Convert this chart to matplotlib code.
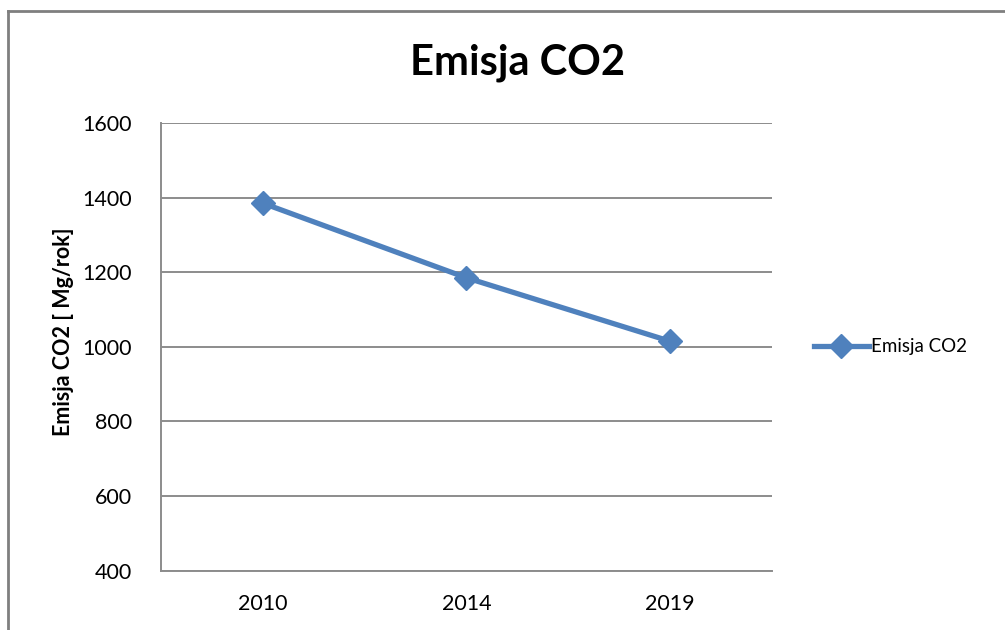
import matplotlib
matplotlib.use("Agg")
import matplotlib.pyplot as plt
from matplotlib.lines import Line2D

plt.rcParams['font.family'] = ['Lato', 'DejaVu Sans']

# Data
years = ['2010', '2014', '2019']
emisja = [1385, 1185, 1015]
y_ticks = [400, 600, 800, 1000, 1200, 1400, 1600]

blue = '#4F81BD'
grid_grey = '#8C8C8C'

fig = plt.figure(figsize=(10.05, 6.30), dpi=100)
ax = fig.add_axes([0.160, 0.094, 0.608, 0.711])

x = range(len(years))
ax.plot(x, emisja, color=blue, linewidth=3.8, marker='D', markersize=12,
        markerfacecolor=blue, markeredgecolor=blue, label='Emisja CO2',
        zorder=3)

ax.set_xlim(-0.5, len(years) - 0.5)
ax.set_ylim(400, 1600)
ax.set_xticks(list(x))
ax.set_xticklabels(years)
ax.set_yticks(y_ticks)
ax.tick_params(axis='both', length=0, labelsize=15.5)
ax.tick_params(axis='y', pad=21)
ax.tick_params(axis='x', pad=17)

ax.grid(axis='y', color=grid_grey, linewidth=1.4)
ax.set_axisbelow(True)
for side in ['top', 'right']:
    ax.spines[side].set_visible(False)
for side in ['left', 'bottom']:
    ax.spines[side].set_color(grid_grey)
    ax.spines[side].set_linewidth(1.4)

ax.set_ylabel('Emisja CO2 [ Mg/rok]', fontsize=15.5, fontweight='bold')
ax.yaxis.set_label_coords(-0.142, 0.533)
fig.text(0.515, 0.901, 'Emisja CO2', fontsize=30, fontweight='bold',
         ha='center', va='center')

ax.legend(loc='center left', bbox_to_anchor=(1.057, 0.5), frameon=False,
          fontsize=13.5, handlelength=2.9, handletextpad=0.15,
          borderaxespad=0)

# outer frame: left and top edges only
fig.add_artist(Line2D([0.008, 0.008], [0, 0.982], transform=fig.transFigure,
                      color='#7F7F7F', linewidth=2))
fig.add_artist(Line2D([0.008, 1], [0.982, 0.982], transform=fig.transFigure,
                      color='#7F7F7F', linewidth=2))

fig.savefig('out.png', dpi=100, facecolor='white')
